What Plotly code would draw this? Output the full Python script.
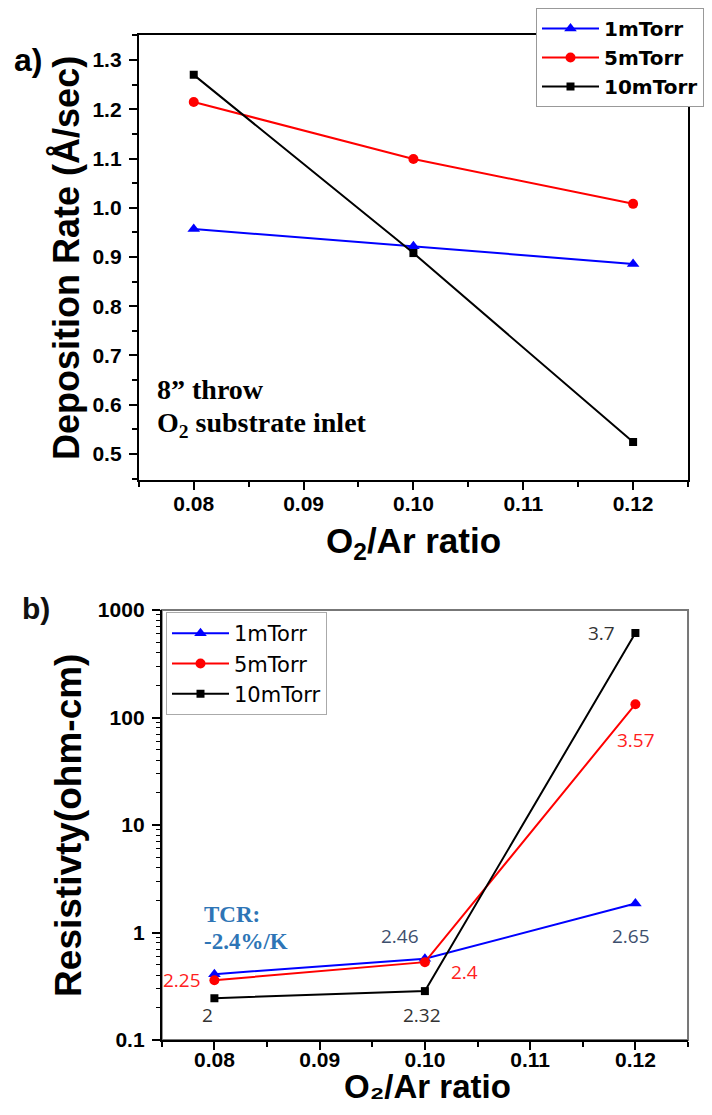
import plotly.graph_objects as go

# ---------------- data ----------------
ratio = [0.08, 0.10, 0.12]
series_names = ["1mTorr", "5mTorr", "10mTorr"]

dep_1mTorr = [0.957, 0.922, 0.886]
dep_5mTorr = [1.215, 1.099, 1.008]
dep_10mTorr = [1.270, 0.908, 0.524]

res_1mTorr = [0.41, 0.57, 1.86]
res_5mTorr = [0.36, 0.53, 133]
res_10mTorr = [0.245, 0.285, 610]

# point labels on panel b: (text, x, log10 y, colour)
label_text = ["2.46", "2.65", "2.25", "2.4", "2", "2.32", "3.7", "3.57"]
label_x = [0.0976, 0.1196, 0.0769, 0.1038, 0.0793, 0.0997, 0.1168, 0.1201]
label_logy = [-0.033, -0.033, -0.442, -0.367, -0.767, -0.767, 2.786, 1.791]
label_color = ["#3d4f6e", "#3d4f6e", "#ff2020", "#ff2020", "#333333", "#333333", "#333333", "#ff2020"]

colors = ["#0000ff", "#ff0000", "#000000"]
symbols = ["triangle-up", "circle", "square"]
msizes = [11, 10, 8]

# page body has an 8px margin; size the figure so the page fits the window exactly
OFF = 8
FW, FH = 712 - 2 * OFF, 1115 - 2 * OFF
SANS = "Liberation Sans, Arial"
WIDE = "DejaVu Sans"
SERIF = "Liberation Serif, Times New Roman"

fig = go.Figure()

for name, ys, c, s, ms in zip(series_names, [dep_1mTorr, dep_5mTorr, dep_10mTorr], colors, symbols, msizes):
    fig.add_trace(go.Scatter(x=ratio, y=ys, mode="lines+markers", name=name,
                             line=dict(color=c, width=2), marker=dict(symbol=s, size=ms, color=c),
                             xaxis="x", yaxis="y", legend="legend"))

for name, ys, c, s, ms in zip(series_names, [res_1mTorr, res_5mTorr, res_10mTorr], colors, symbols, msizes):
    fig.add_trace(go.Scatter(x=ratio, y=ys, mode="lines+markers", name=name,
                             line=dict(color=c, width=2), marker=dict(symbol=s, size=ms, color=c),
                             xaxis="x2", yaxis="y2", legend="legend2"))


def px_x(p):
    return (p - OFF) / FW


def px_y(p):
    return 1 - (p - OFF) / FH


tickfont = dict(family=SANS, size=21, color="black", weight="bold")
minor_log = [k * 10 ** e for e in range(-1, 3) for k in range(2, 10)]
xt = [0.08, 0.09, 0.10, 0.11, 0.12]
xt_text = ["0.08", "0.09", "0.10", "0.11", "0.12"]

fig.update_layout(
    width=FW, height=FH,
    margin=dict(l=0, r=0, t=0, b=0),
    paper_bgcolor="white", plot_bgcolor="white",
    xaxis=dict(domain=[px_x(139), px_x(689)], range=[0.075, 0.125], anchor="y", automargin=False,
               tickvals=xt, ticktext=xt_text,
               ticks="outside", ticklen=8, tickwidth=1.5, tickcolor="black",
               minor=dict(ticks="outside", ticklen=5, tickwidth=1.5, tickcolor="black", dtick=0.005, tick0=0.075),
               showline=True, linecolor="black", linewidth=2, mirror=True,
               showgrid=False, zeroline=False, tickfont=tickfont, ticklabelstandoff=-4),
    yaxis=dict(domain=[px_y(480), px_y(35)], range=[0.447, 1.351], anchor="x", automargin=False,
               tickvals=[0.5, 0.6, 0.7, 0.8, 0.9, 1.0, 1.1, 1.2, 1.3],
               ticktext=["0.5", "0.6", "0.7", "0.8", "0.9", "1.0", "1.1", "1.2", "1.3"],
               ticks="outside", ticklen=8, tickwidth=1.5, tickcolor="black",
               minor=dict(ticks="outside", ticklen=5, tickwidth=1.5, tickcolor="black", dtick=0.1, tick0=0.45),
               showline=True, linecolor="black", linewidth=2, mirror=True,
               showgrid=False, zeroline=False, tickfont=tickfont, ticklabelstandoff=3),
    xaxis2=dict(domain=[px_x(162), px_x(689)], range=[0.075, 0.125], anchor="y2", automargin=False,
                tickvals=xt, ticktext=xt_text,
                ticks="outside", ticklen=8, tickwidth=1.5, tickcolor="black",
                minor=dict(ticks="outside", ticklen=5, tickwidth=1.5, tickcolor="black", dtick=0.005, tick0=0.075),
                showline=True, linecolor="black", linewidth=2,
                showgrid=False, zeroline=False, tickfont=tickfont, ticklabelstandoff=-8),
    yaxis2=dict(domain=[px_y(1040), px_y(610)], type="log", range=[-1, 3], anchor="x2", automargin=False,
                tickvals=[0.1, 1, 10, 100, 1000], ticktext=["0.1", "1", "10", "100", "1000"],
                ticks="outside", ticklen=8, tickwidth=1.5, tickcolor="black",
                minor=dict(ticks="outside", ticklen=4, tickwidth=1, tickcolor="black", tickvals=minor_log),
                showline=True, linecolor="black", linewidth=2,
                showgrid=False, zeroline=False, tickfont=tickfont, ticklabelstandoff=3),
    legend=dict(x=px_x(537), y=px_y(8), xanchor="left", yanchor="top",
                bgcolor="white", bordercolor="#999999", borderwidth=1,
                font=dict(family=WIDE, size=20, color="black", weight="bold"),
                tracegroupgap=0, itemwidth=57),
    legend2=dict(x=px_x(166), y=px_y(612), xanchor="left", yanchor="top",
                 bgcolor="white", bordercolor="#aaaaaa", borderwidth=1,
                 font=dict(family=WIDE, size=21, color="black"),
                 tracegroupgap=0, itemwidth=57),
    showlegend=True,
)

# grey frame on panel b (top/right edges)
fig.add_shape(type="rect", xref="x2 domain", yref="y2 domain", x0=0, x1=1, y0=0, y1=1,
              line=dict(color="#777777", width=2), layer="below")


def pa(text, x, y, size, family=SANS, color="black", bold=True, angle=0, xanchor="center"):
    return dict(text=text, x=px_x(x), y=px_y(y), xref="paper", yref="paper", showarrow=False,
                xanchor=xanchor, yanchor="middle", textangle=angle,
                font=dict(family=family, size=size, color=color, weight="bold" if bold else "normal"))


ann = [
    pa("a)", 28, 60, 32),
    pa("b)", 36, 608, 30, color="#111111"),
    pa("Deposition Rate (Å/sec)", 66, 258, 36, angle=-90),
    pa("O<sub>2</sub>/Ar ratio", 414, 543, 35),
    pa("Resistivty(ohm-cm)", 68, 825, 37, angle=-90),
    pa("O₂/Ar ratio", 428, 1086, 33),
    pa("8” throw", 155, 390, 28, family=SERIF, xanchor="left"),
    pa("O<sub>2</sub> substrate inlet", 155, 425, 28, family=SERIF, xanchor="left"),
]

ann.append(dict(text="TCR:", x=0.0788, y=0.163, xref="x2", yref="y2", xanchor="left", yanchor="middle",
                showarrow=False, font=dict(family=SERIF, size=23, color="#2e75b6", weight="bold")))
ann.append(dict(text="-2.4%/K", x=0.0788, y=-0.088, xref="x2", yref="y2", xanchor="left", yanchor="middle",
                showarrow=False, font=dict(family=SERIF, size=23, color="#2e75b6", weight="bold")))
for t, lx, ly, lc in zip(label_text, label_x, label_logy, label_color):
    ann.append(dict(text=t, x=lx, y=ly, xref="x2", yref="y2", showarrow=False,
                    xanchor="center", yanchor="middle",
                    font=dict(family="Open Sans", size=19, color=lc)))

fig.update_layout(annotations=ann)

fig.write_html("out.html")
